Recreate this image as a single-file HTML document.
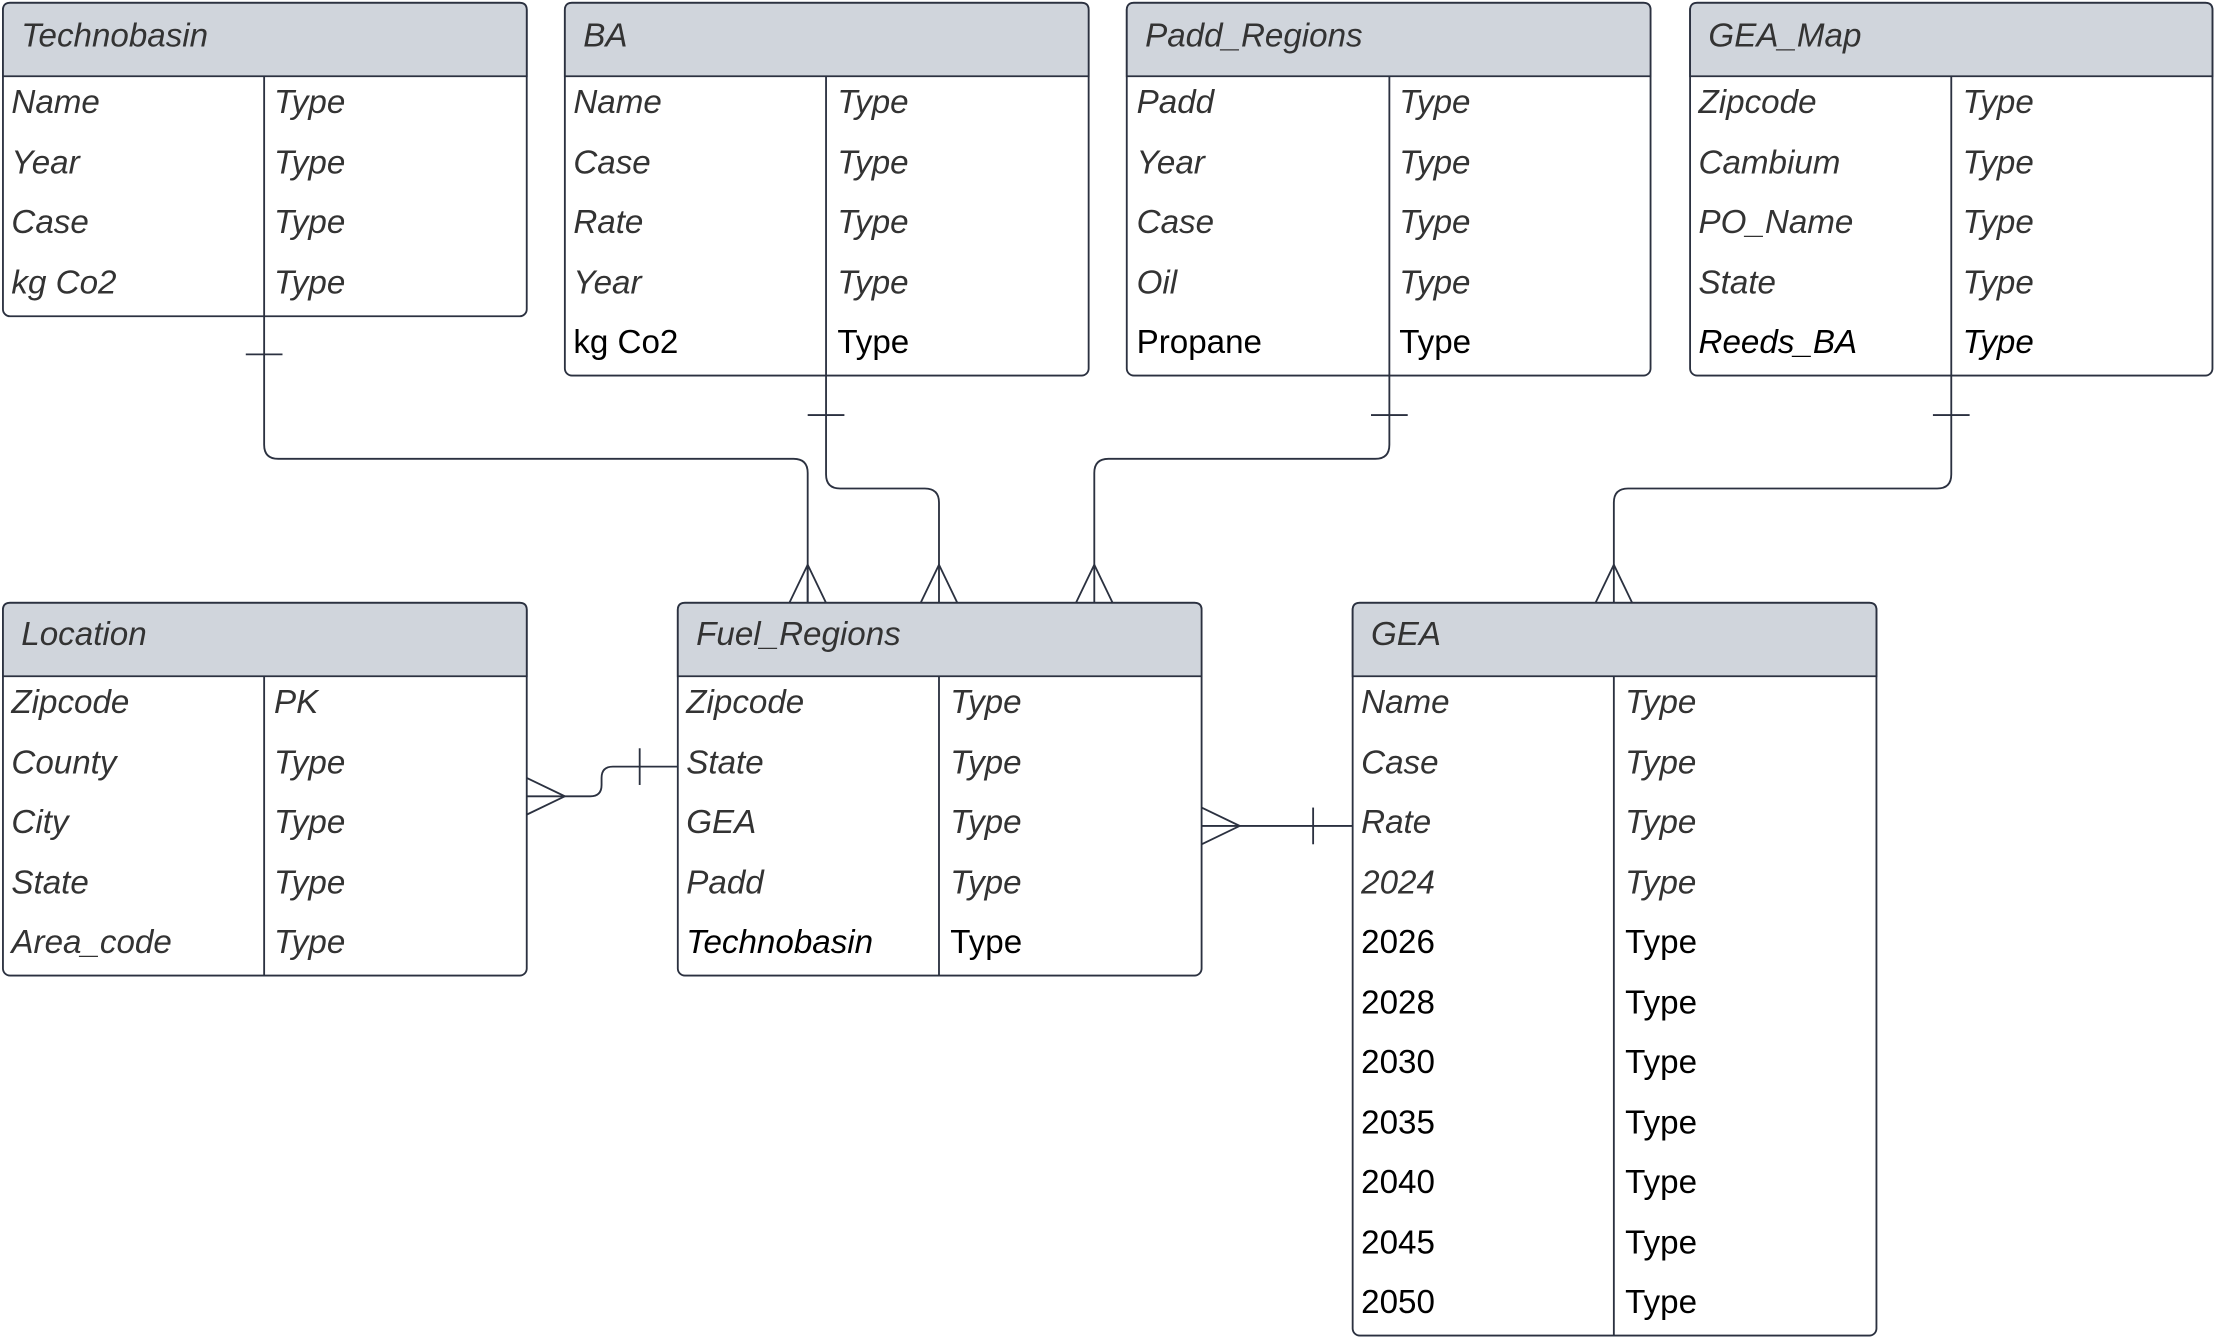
<!DOCTYPE html>
<html><head><meta charset="utf-8"><style>
html,body{margin:0;padding:0;background:#fff}
svg{display:block}
text{font-family:"Liberation Sans",sans-serif;font-size:23.5px;fill:#333}
.i{font-style:italic}
.b{fill:#000}
</style></head><body>
<svg width="2214" height="1337" viewBox="0 0 1568 947" xmlns="http://www.w3.org/2000/svg">
<g fill="none" stroke="#2b3140" stroke-width="1.3">
<path d="M187 224 V315 Q187 325 197 325 H562 Q572 325 572 335 V427"/>
<path d="M174 251 H200"/>
<path d="M559 427 L572 400 L585 427 M572 400 V427"/>
<path d="M585 266 V336 Q585 346 595 346 H655 Q665 346 665 356 V427"/>
<path d="M572 294 H598"/>
<path d="M652 427 L665 400 L678 427"/>
<path d="M984 266 V315 Q984 325 974 325 H785 Q775 325 775 335 V427"/>
<path d="M971 294 H997"/>
<path d="M762 427 L775 400 L788 427"/>
<path d="M1382 266 V336 Q1382 346 1372 346 H1153 Q1143 346 1143 356 V427"/>
<path d="M1369 294 H1395"/>
<path d="M1130 427 L1143 400 L1156 427"/>
<path d="M373 564 H418 Q426 564 426 556 V551 Q426 543 434 543 H480"/>
<path d="M373 551 L400 564 L373 577"/>
<path d="M453 530 V556"/>
<path d="M851 585 H958"/>
<path d="M851 572 L878 585 L851 598"/>
<path d="M930 572 V598"/>
</g>
<g stroke="#2b3140" stroke-width="1.3">
<rect x="2" y="2" width="371" height="222" rx="5" fill="#fff"/>
<path d="M2 54 V7 Q2 2 7 2 H368 Q373 2 373 7 V54 Z" fill="#d0d5dc"/>
<path d="M187 54 V224" fill="none"/>
<rect x="400" y="2" width="371" height="264" rx="5" fill="#fff"/>
<path d="M400 54 V7 Q400 2 405 2 H766 Q771 2 771 7 V54 Z" fill="#d0d5dc"/>
<path d="M585 54 V266" fill="none"/>
<rect x="798" y="2" width="371" height="264" rx="5" fill="#fff"/>
<path d="M798 54 V7 Q798 2 803 2 H1164 Q1169 2 1169 7 V54 Z" fill="#d0d5dc"/>
<path d="M984 54 V266" fill="none"/>
<rect x="1197" y="2" width="370" height="264" rx="5" fill="#fff"/>
<path d="M1197 54 V7 Q1197 2 1202 2 H1562 Q1567 2 1567 7 V54 Z" fill="#d0d5dc"/>
<path d="M1382 54 V266" fill="none"/>
<rect x="2" y="427" width="371" height="264" rx="5" fill="#fff"/>
<path d="M2 479 V432 Q2 427 7 427 H368 Q373 427 373 432 V479 Z" fill="#d0d5dc"/>
<path d="M187 479 V691" fill="none"/>
<rect x="480" y="427" width="371" height="264" rx="5" fill="#fff"/>
<path d="M480 479 V432 Q480 427 485 427 H846 Q851 427 851 432 V479 Z" fill="#d0d5dc"/>
<path d="M665 479 V691" fill="none"/>
<rect x="958" y="427" width="371" height="519" rx="5" fill="#fff"/>
<path d="M958 479 V432 Q958 427 963 427 H1324 Q1329 427 1329 432 V479 Z" fill="#d0d5dc"/>
<path d="M1143 479 V946" fill="none"/>
</g>
<g>
<text class="i" x="15" y="33">Technobasin</text>
<text class="i" x="8" y="80">Name</text><text class="i" x="194" y="80">Type</text>
<text class="i" x="8" y="123">Year</text><text class="i" x="194" y="123">Type</text>
<text class="i" x="8" y="165">Case</text><text class="i" x="194" y="165">Type</text>
<text class="i" x="8" y="208">kg Co2</text><text class="i" x="194" y="208">Type</text>

<text class="i" x="413" y="33">BA</text>
<text class="i" x="406" y="80">Name</text><text class="i" x="593" y="80">Type</text>
<text class="i" x="406" y="123">Case</text><text class="i" x="593" y="123">Type</text>
<text class="i" x="406" y="165">Rate</text><text class="i" x="593" y="165">Type</text>
<text class="i" x="406" y="208">Year</text><text class="i" x="593" y="208">Type</text>
<text class="b" x="406" y="250">kg Co2</text><text class="b" x="593" y="250">Type</text>

<text class="i" x="811" y="33">Padd_Regions</text>
<text class="i" x="805" y="80">Padd</text><text class="i" x="991" y="80">Type</text>
<text class="i" x="805" y="123">Year</text><text class="i" x="991" y="123">Type</text>
<text class="i" x="805" y="165">Case</text><text class="i" x="991" y="165">Type</text>
<text class="i" x="805" y="208">Oil</text><text class="i" x="991" y="208">Type</text>
<text class="b" x="805" y="250">Propane</text><text class="b" x="991" y="250">Type</text>

<text class="i" x="1210" y="33">GEA_Map</text>
<text class="i" x="1203" y="80">Zipcode</text><text class="i" x="1390" y="80">Type</text>
<text class="i" x="1203" y="123">Cambium</text><text class="i" x="1390" y="123">Type</text>
<text class="i" x="1203" y="165">PO_Name</text><text class="i" x="1390" y="165">Type</text>
<text class="i" x="1203" y="208">State</text><text class="i" x="1390" y="208">Type</text>
<text class="i b" x="1203" y="250">Reeds_BA</text><text class="i b" x="1390" y="250">Type</text>

<text class="i" x="15" y="457">Location</text>
<text class="i" x="8" y="505">Zipcode</text><text class="i" x="194" y="505">PK</text>
<text class="i" x="8" y="548">County</text><text class="i" x="194" y="548">Type</text>
<text class="i" x="8" y="590">City</text><text class="i" x="194" y="590">Type</text>
<text class="i" x="8" y="633">State</text><text class="i" x="194" y="633">Type</text>
<text class="i" x="8" y="675">Area_code</text><text class="i" x="194" y="675">Type</text>

<text class="i" x="493" y="457">Fuel_Regions</text>
<text class="i" x="486" y="505">Zipcode</text><text class="i" x="673" y="505">Type</text>
<text class="i" x="486" y="548">State</text><text class="i" x="673" y="548">Type</text>
<text class="i" x="486" y="590">GEA</text><text class="i" x="673" y="590">Type</text>
<text class="i" x="486" y="633">Padd</text><text class="i" x="673" y="633">Type</text>
<text class="i b" x="486" y="675">Technobasin</text><text class="b" x="673" y="675">Type</text>

<text class="i" x="971" y="457">GEA</text>
<text class="i" x="964" y="505">Name</text><text class="i" x="1151" y="505">Type</text>
<text class="i" x="964" y="548">Case</text><text class="i" x="1151" y="548">Type</text>
<text class="i" x="964" y="590">Rate</text><text class="i" x="1151" y="590">Type</text>
<text class="i" x="964" y="633">2024</text><text class="i" x="1151" y="633">Type</text>
<text class="b" x="964" y="675">2026</text><text class="b" x="1151" y="675">Type</text>
<text class="b" x="964" y="718">2028</text><text class="b" x="1151" y="718">Type</text>
<text class="b" x="964" y="760">2030</text><text class="b" x="1151" y="760">Type</text>
<text class="b" x="964" y="803">2035</text><text class="b" x="1151" y="803">Type</text>
<text class="b" x="964" y="845">2040</text><text class="b" x="1151" y="845">Type</text>
<text class="b" x="964" y="888">2045</text><text class="b" x="1151" y="888">Type</text>
<text class="b" x="964" y="930">2050</text><text class="b" x="1151" y="930">Type</text>
</g>
</svg>
</body></html>
